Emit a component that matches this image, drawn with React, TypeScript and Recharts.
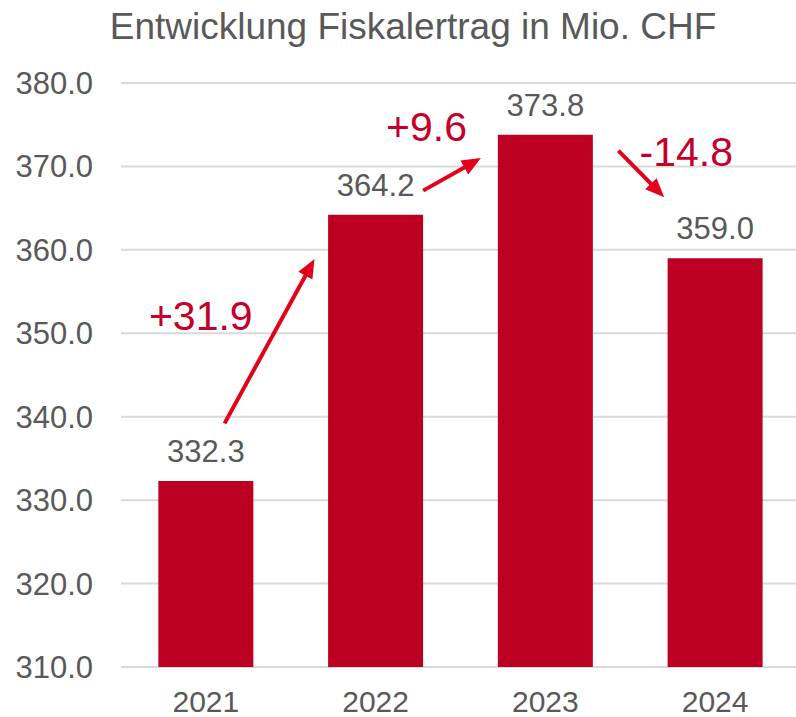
import {
  Bar,
  BarChart,
  CartesianGrid,
  LabelList,
  ReferenceDot,
  ReferenceLine,
  XAxis,
  YAxis
} from "recharts"

const years = ["2021", "2022", "2023", "2024"]
const revenue = [332.3, 364.2, 373.8, 359.0]
const yTicks = [310, 320, 330, 340, 350, 360, 370, 380]

// change annotations: x is a position on a hidden 0..4 axis (category i = i..i+1)
const changeTexts = ["+31.9", "+9.6", "-14.8"]
const changeTextX = [0.47, 1.8, 3.33]
const changeTextY = [350.4, 373.1, 370.0]
const arrowFromX = [0.61, 1.78, 2.93]
const arrowFromY = [339.2, 367.1, 371.9]
const arrowToX = [1.14, 2.12, 3.2]
const arrowToY = [358.9, 371.0, 366.3]

const data = years.map((year, i) => ({ year, value: revenue[i], pos: i + 0.5 }))

const GREY = "#595959"
const BAR_RED = "#BC0022"
const ARROW_RED = "#E2001A"
const TEXT_RED = "#C4002A"
const FONT = "Liberation Sans, Arial, sans-serif"

const Arrow = (props: any) => {
  const { x1, y1, x2, y2 } = props
  if ([x1, y1, x2, y2].some(v => typeof v !== "number")) return null
  const dx = x2 - x1
  const dy = y2 - y1
  const len = Math.sqrt(dx * dx + dy * dy)
  const ux = dx / len
  const uy = dy / len
  const headLen = 19
  const headHalf = 8
  const bx = x2 - ux * headLen
  const by = y2 - uy * headLen
  const pts = [
    `${x2},${y2}`,
    `${bx - uy * headHalf},${by + ux * headHalf}`,
    `${bx + uy * headHalf},${by - ux * headHalf}`
  ].join(" ")
  return (
    <g>
      <line x1={x1} y1={y1} x2={bx + ux * 2} y2={by + uy * 2} stroke={ARROW_RED} strokeWidth={4} />
      <polygon points={pts} fill={ARROW_RED} />
    </g>
  )
}

const App = () => {
  return (
    <div style={{ position: "absolute", left: 0, top: 0, width: 796, height: 717, overflow: "hidden", background: "#fff" }}>
      <svg width={796} height={50} style={{ position: "absolute", left: 0, top: 0 }}>
        <text x={413} y={38.5} textAnchor="middle" fontFamily={FONT} fontSize={37} fill={GREY}>
          Entwicklung Fiskalertrag in Mio. CHF
        </text>
      </svg>
      <BarChart
        width={800}
        height={717}
        data={data}
        margin={{ top: 83, right: 0, bottom: 0, left: 0 }}
        barCategoryGap="22%"
        style={{ position: "absolute", left: 0, top: 0 }}
      >
        <CartesianGrid vertical={false} stroke="#D9D9D9" strokeWidth={2} />
        <XAxis
          dataKey="year"
          axisLine={false}
          tickLine={false}
          tickSize={0}
          tickMargin={24}
          height={50}
          tick={{ fill: GREY, fontSize: 30, fontFamily: FONT }}
        />
        <XAxis
          xAxisId="pos"
          dataKey="pos"
          type="number"
          domain={[0, 4]}
          allowDataOverflow
          hide
        />
        <YAxis
          domain={[310, 380]}
          ticks={yTicks}
          allowDataOverflow
          width={121}
          axisLine={false}
          tickLine={false}
          tickSize={0}
          tickMargin={28}
          tickFormatter={(v: number) => v.toFixed(1)}
          tick={{ fill: GREY, fontSize: 31, fontFamily: FONT }}
        />
        <Bar dataKey="value" fill={BAR_RED} isAnimationActive={false}>
          <LabelList
            dataKey="value"
            position="top"
            offset={19}
            formatter={(v: any) => Number(v).toFixed(1)}
            style={{ fill: GREY, fontSize: 31, fontFamily: FONT }}
          />
        </Bar>
        {changeTexts.map((_, i) => (
          <ReferenceLine
            key={`arrow-${i}`}
            xAxisId="pos"
            segment={[
              { x: arrowFromX[i], y: arrowFromY[i] },
              { x: arrowToX[i], y: arrowToY[i] }
            ]}
            shape={Arrow}
          />
        ))}
        {changeTexts.map((t, i) => (
          <ReferenceDot
            key={`txt-${i}`}
            xAxisId="pos"
            x={changeTextX[i]}
            y={changeTextY[i]}
            r={0}
            shape={(p: any) => (
              <text x={p.cx} y={p.cy} textAnchor="middle" fontFamily={FONT} fontSize={41} fill={TEXT_RED}>
                {t}
              </text>
            )}
          />
        ))}
      </BarChart>
    </div>
  )
}

export default App
